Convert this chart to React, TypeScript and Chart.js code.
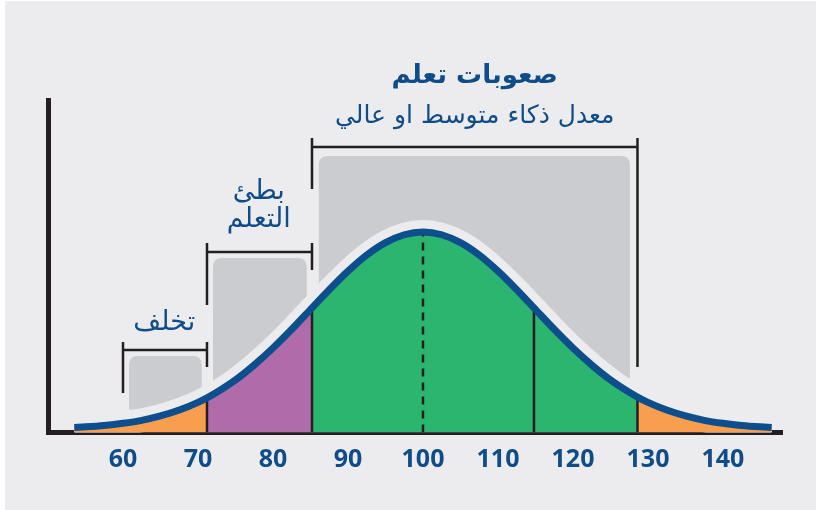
import { useEffect, useRef } from 'react';
import { Chart, registerables } from 'chart.js';
Chart.register(...registerables);

// IQ scores along the curve and the curve height (peak = 100)
const IQ = [53.5, 55, 57.5, 60, 62.5, 65, 67.5, 70, 71.2, 72.5, 75, 77.5, 80, 82.5, 85.2, 87.5, 90, 92.5, 95, 97.5, 100,
  102.5, 105, 107.5, 110, 112.5, 114.8, 117.5, 120, 122.5, 125, 127.5, 128.6, 130, 132.5, 135, 137.5, 140, 142.5, 145, 146.5];
const HEIGHT = [0.8, 1.1, 1.8, 2.9, 4.4, 6.6, 9.6, 13.5, 15.8, 18.6, 24.9, 32.5, 41.1, 50.6, 61.5, 70.7, 80.1, 88.3, 94.6, 98.6, 100,
  98.6, 94.6, 88.3, 80.1, 70.7, 61.5, 50.6, 41.1, 32.5, 24.9, 18.6, 16.2, 13.5, 9.6, 6.6, 4.4, 2.9, 1.8, 1.1, 0.8];
const TICKS = [60, 70, 80, 90, 100, 110, 120, 130, 140];
const BOUNDARIES = [71.2, 85.2, 114.8, 128.6];
const MEAN = 100;

const TITLE = 'صعوبات تعلم';
const SUBTITLE = 'معدل ذكاء متوسط او عالي';
const SLOW_1 = 'بطئ';
const SLOW_2 = 'التعلم';
const DELAY = 'تخلف';

const X_MIN = 50;
const X_MAX = 147.87;
const Y_MIN = -1.78;
const Y_MAX = 167;

const TEXT_BLUE = '#0f4c8a';
const CURVE_BLUE = '#0c4f8c';
const DARK = '#231f20';
const BG = '#ececee';
const BLOCK = '#cbcccf';
const GREEN = '#2bb56e';
const PURPLE = '#b06baa';
const ORANGE = '#f99d4e';
const AR_FONT = "'DejaVu Sans', sans-serif";

// grey blocks in data coords [x0, x1, yTop, yBottom]
const BLOCKS = [
  [60.8, 70.5, 37.1, 7.1],
  [72.0, 84.5, 86.8, 0],
  [86.1, 127.6, 138.6, 0],
];
// brackets: [x0, x1, yBar, yTop, yLeftBottom, yRightBottom]
const BRACKETS = [
  [60, 71.2, 40.1, 44.2, 18.3, 31.5],
  [71.2, 85.2, 89.8, 94.4, 62.9, 80.7],
  [85.2, 128.6, 143.1, 147.7, 121.8, 31.5],
];

function pts(lo: number, hi: number) {
  return IQ.map((x, i) => ({ x, y: HEIGHT[i] })).filter((p) => p.x >= lo && p.x <= hi);
}
function hAt(x: number) {
  return HEIGHT[IQ.indexOf(x)];
}

function roundRect(ctx: CanvasRenderingContext2D, x: number, y: number, w: number, h: number, r: number) {
  ctx.beginPath();
  ctx.moveTo(x + r, y);
  ctx.lineTo(x + w - r, y);
  ctx.quadraticCurveTo(x + w, y, x + w, y + r);
  ctx.lineTo(x + w, y + h - r);
  ctx.quadraticCurveTo(x + w, y + h, x + w - r, y + h);
  ctx.lineTo(x + r, y + h);
  ctx.quadraticCurveTo(x, y + h, x, y + h - r);
  ctx.lineTo(x, y + r);
  ctx.quadraticCurveTo(x, y, x + r, y);
  ctx.closePath();
}

const decor = {
  id: 'decor',
  beforeDraw(chart: any) {
    const ctx = chart.ctx;
    ctx.save();
    ctx.fillStyle = '#ffffff';
    ctx.fillRect(0, 0, chart.width, chart.height);
    ctx.fillStyle = BG;
    ctx.fillRect(5, 1, chart.width - 5, chart.height - 1);
    ctx.restore();
  },
  beforeDatasetsDraw(chart: any) {
    const ctx = chart.ctx;
    const xs = chart.scales.x;
    const ys = chart.scales.y;
    ctx.save();
    ctx.fillStyle = BLOCK;
    for (const [x0, x1, yt, yb] of BLOCKS) {
      const px0 = xs.getPixelForValue(x0);
      const px1 = xs.getPixelForValue(x1);
      const py0 = ys.getPixelForValue(yt);
      const py1 = ys.getPixelForValue(yb);
      roundRect(ctx, px0, py0, px1 - px0, py1 - py0, 9);
      ctx.fill();
    }
    ctx.restore();
  },
  afterDatasetsDraw(chart: any) {
    const ctx = chart.ctx;
    const xs = chart.scales.x;
    const ys = chart.scales.y;
    const X = (v: number) => xs.getPixelForValue(v);
    const Y = (v: number) => ys.getPixelForValue(v);
    ctx.save();
    ctx.strokeStyle = DARK;
    ctx.lineWidth = 2.5;
    for (const [x0, x1, yb, yt, yl, yr] of BRACKETS) {
      ctx.beginPath();
      ctx.moveTo(X(x0), Y(yb));
      ctx.lineTo(X(x1), Y(yb));
      ctx.moveTo(X(x0), Y(yt));
      ctx.lineTo(X(x0), Y(yl));
      ctx.moveTo(X(x1), Y(yt));
      ctx.lineTo(X(x1), Y(yr));
      ctx.stroke();
    }
    ctx.fillStyle = TEXT_BLUE;
    ctx.textAlign = 'center';
    ctx.textBaseline = 'middle';
    ctx.direction = 'rtl';
    ctx.font = `bold 26px ${AR_FONT}`;
    ctx.fillText(TITLE, X(106.9), Y(179.2));
    ctx.font = `25px ${AR_FONT}`;
    ctx.fillText(SUBTITLE, X(106.9), Y(158.6));
    ctx.font = `27px ${AR_FONT}`;
    ctx.fillText(SLOW_1, X(78.1), Y(120.3));
    ctx.fillText(SLOW_2, X(78.1), Y(106.1));
    ctx.fillText(DELAY, X(65.5), Y(53.8));
    ctx.restore();
  },
};

export default function App() {
  const ref = useRef<HTMLCanvasElement | null>(null);
  useEffect(() => {
    if (!ref.current) return;
    const lineDs = (b: number, dash: number[] = []) => ({
      data: [{ x: b, y: Y_MIN }, { x: b, y: hAt(b) }],
      borderColor: DARK,
      borderWidth: 2.5,
      borderDash: dash,
      fill: false,
      order: 1,
    });
    const fillDs = (lo: number, hi: number, color: string) => ({
      data: pts(lo, hi),
      borderColor: 'rgba(0,0,0,0)',
      borderWidth: 1,
      backgroundColor: color,
      fill: 'start',
      order: 2,
      cubicInterpolationMode: 'monotone',
    });
    const all = pts(-Infinity, Infinity);
    const chart = new Chart(ref.current, {
      type: 'line',
      data: {
        datasets: [
          { data: all, borderColor: CURVE_BLUE, borderWidth: 7, fill: false, order: 0, cubicInterpolationMode: 'monotone', borderCapStyle: 'butt' },
          ...BOUNDARIES.map((b) => lineDs(b)),
          { ...lineDs(MEAN, [8, 6]), data: [{ x: MEAN, y: Y_MIN }, { x: MEAN, y: hAt(MEAN) - 1 }] },
          fillDs(IQ[0], BOUNDARIES[0], ORANGE),
          fillDs(BOUNDARIES[0], BOUNDARIES[1], PURPLE),
          fillDs(BOUNDARIES[1], BOUNDARIES[3], GREEN),
          fillDs(BOUNDARIES[3], IQ[IQ.length - 1], ORANGE),
          { data: all, borderColor: BG, borderWidth: 24, backgroundColor: BG, fill: 'start', order: 3, cubicInterpolationMode: 'monotone' },
        ] as any,
      },
      options: {
        animation: false,
        responsive: false,
        maintainAspectRatio: false,
        layout: { padding: { left: 48, right: 34, top: 100, bottom: 0 } },
        elements: { point: { radius: 0 } },
        plugins: { legend: { display: false }, tooltip: { enabled: false }, title: { display: false } },
        scales: {
          x: {
            type: 'linear',
            min: X_MIN,
            max: X_MAX,
            z: 1,
            grid: { display: false, drawTicks: false },
            border: { display: true, color: DARK, width: 5 },
            ticks: { font: { family: 'Open Sans', weight: 'bold', size: 25 }, color: TEXT_BLUE, padding: 12 },
            afterBuildTicks: (s: any) => { s.ticks = TICKS.map((v) => ({ value: v })); },
            afterFit: (s: any) => { s.height = 77.5; },
          },
          y: {
            type: 'linear',
            min: Y_MIN,
            max: Y_MAX,
            z: 1,
            grid: { display: false, drawTicks: false },
            border: { display: true, color: DARK, width: 5 },
            ticks: { display: false },
            afterFit: (s: any) => { s.width = 0; },
          },
        },
      } as any,
      plugins: [decor],
    });
    return () => chart.destroy();
  }, []);
  return (
    <div style={{ position: 'absolute', left: 0, top: 0, width: 816, height: 510 }}>
      <canvas ref={ref} width={816} height={510} style={{ display: 'block', width: 816, height: 510 }} />
    </div>
  );
}
